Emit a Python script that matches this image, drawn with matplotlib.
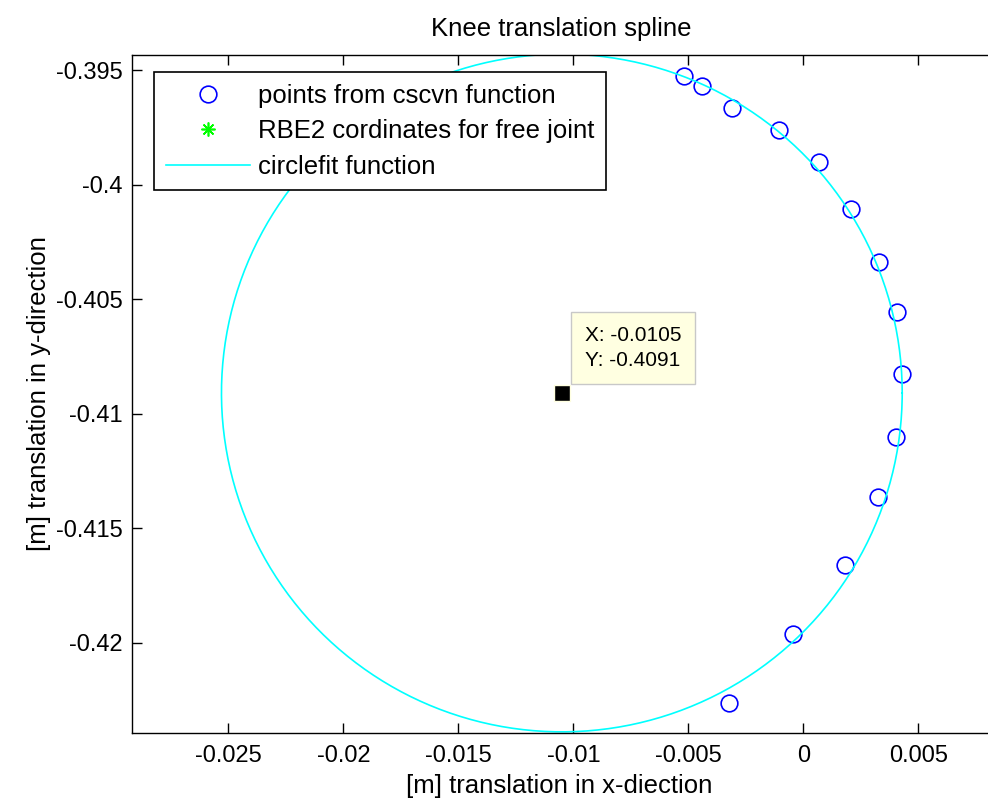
import numpy as np
import matplotlib
matplotlib.use("Agg")
import matplotlib.pyplot as plt

plt.rcParams['font.family'] = ['Liberation Sans', 'DejaVu Sans']
plt.rcParams['axes.unicode_minus'] = False

# points from cscvn function
pts_x = [-0.00520, -0.00440, -0.00311, -0.00104, 0.00068, 0.00206, 0.00328,
         0.00406, 0.00430, 0.00404, 0.00326, 0.00180, -0.00045, -0.00322]
pts_y = [-0.39526, -0.39570, -0.39665, -0.39762, -0.39900, -0.40107, -0.40340,
         -0.40558, -0.40828, -0.41104, -0.41363, -0.41660, -0.41963, -0.42266]

# circlefit result (center = RBE2 free joint)
center_x = -0.0105
center_y = -0.4091
radius = 0.0148

xticks = [-0.025, -0.02, -0.015, -0.01, -0.005, 0, 0.005]
xtick_labels = ['-0.025', '-0.02', '-0.015', '-0.01', '-0.005', '0', '0.005']
yticks = [-0.395, -0.4, -0.405, -0.41, -0.415, -0.42]
ytick_labels = ['-0.395', '-0.4', '-0.405', '-0.41', '-0.415', '-0.42']

fig = plt.figure(figsize=(9.88, 8.02), dpi=100)
# axes runs past the right edge of the picture (cropped screenshot)
ax = fig.add_axes([132 / 988, 69 / 802, 864 / 988, 678 / 802])

theta = np.linspace(0, 2 * np.pi, 400)
ax.plot(pts_x, pts_y, 'o', ls='none', mfc='none', mec=(0, 0, 1), ms=12, mew=1.2,
        label='points from cscvn function')
ax.plot([center_x], [center_y], ls='none', marker=(8, 2, 0), color=(0, 1, 0),
        ms=10, mew=1.2, label='RBE2 cordinates for free joint')
ax.plot(center_x + radius * np.cos(theta), center_y + radius * np.sin(theta),
        color=(0, 1, 1), lw=1.2, label='circlefit function')

# data tip
ax.plot([center_x], [center_y], 's', color='black', mec='#FFFFE1', mew=1, ms=11.5,
        zorder=5)
ax.annotate('X: -0.0105\nY: -0.4091', xy=(center_x, center_y), xytext=(23, 23),
            textcoords='offset pixels', ha='left', va='bottom', fontsize=15,
            linespacing=1.4,
            bbox=dict(boxstyle='square,pad=0.65', fc='#FFFFE1', ec='#C8C8C8', lw=1))

ax.set_xlim(-0.02919, 0.008378)
ax.set_ylim(-0.42395, -0.39434)
ax.set_xticks(xticks)
ax.set_xticklabels(xtick_labels)
ax.set_yticks(yticks)
ax.set_yticklabels(ytick_labels)
ax.tick_params(direction='in', length=7, width=1, top=True, right=False,
               labelsize=17)
ax.tick_params(axis='x', pad=9)
ax.tick_params(axis='y', pad=7)
for s in ax.spines.values():
    s.set_linewidth(1)

ax.set_title('Knee translation spline', fontsize=18.5, pad=14, x=(561 - 132) / 864)
ax.set_xlabel('[m] translation in x-diection', fontsize=18.5, labelpad=5,
              x=(559 - 132) / 864)
ax.set_ylabel('[m] translation in y-direction', fontsize=18.5, labelpad=3)

leg = ax.legend(loc='upper left', bbox_to_anchor=(154 / 988, 1 - 72 / 802),
                bbox_transform=fig.transFigure, borderaxespad=0, fontsize=18.5,
                fancybox=False, framealpha=1, edgecolor='black',
                handlelength=3.3, handletextpad=0.3, labelspacing=0.45,
                borderpad=0.45)
leg.get_frame().set_linewidth(1.2)

fig.savefig('out.png', dpi=100)
